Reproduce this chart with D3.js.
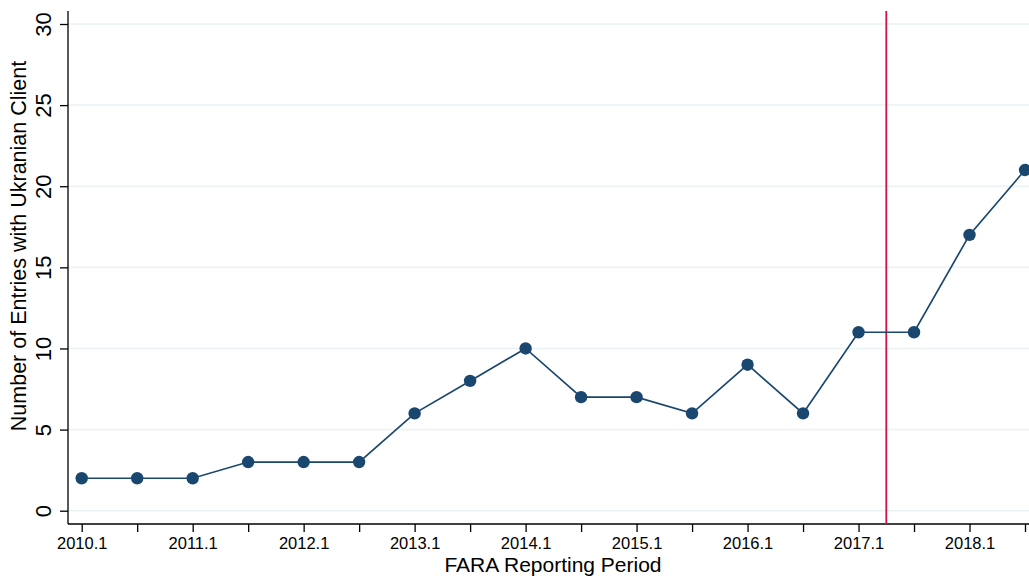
<!DOCTYPE html>
<html>
<head>
<meta charset="utf-8">
<script src="https://cdn.jsdelivr.net/npm/d3@7"></script>
<style>
  html, body { margin: 0; padding: 0; background: #fff; }
  svg { display: block; font-family: "Liberation Sans", Arial, Helvetica, sans-serif; }
</style>
</head>
<body>
<svg id="chart" width="1029" height="578"></svg>
<script>
// FARA reporting periods (half-years) and number of entries with a Ukrainian client
const periods = ["2010.1","2010.2","2011.1","2011.2","2012.1","2012.2","2013.1","2013.2",
                 "2014.1","2014.2","2015.1","2015.2","2016.1","2016.2","2017.1","2017.2",
                 "2018.1","2018.2"];
const entries = [2, 2, 2, 3, 3, 3, 6, 8, 10, 7, 7, 6, 9, 6, 11, 11, 17, 21];
const yTicks = [0, 5, 10, 15, 20, 25, 30];
// Reference line between 2017.1 and 2017.2
const markerPosition = 14.5;

const svg = d3.select("#chart");
const axisLeftX = 68, axisBottomY = 524, plotTop = 11, plotRight = 1029;

const x = d3.scaleLinear().domain([0, periods.length - 1]).range([81.7, 1025]);
const y = d3.scaleLinear().domain([0, 30]).range([510.7, 24]);

// Horizontal gridlines
svg.append("g").selectAll("line").data(yTicks).join("line")
  .attr("x1", axisLeftX).attr("x2", plotRight)
  .attr("y1", d => y(d)).attr("y2", d => y(d))
  .attr("stroke", "#eaf2f3").attr("stroke-width", 1.5);

// Left axis
const yAxis = d3.axisLeft(y).tickValues(yTicks).tickSize(8).tickPadding(9).tickSizeOuter(0);
const gy = svg.append("g").attr("transform", `translate(${axisLeftX},0)`).call(yAxis);
gy.select(".domain").remove();
gy.append("line").attr("x1", 0).attr("x2", 0).attr("y1", plotTop).attr("y2", axisBottomY)
  .attr("stroke", "#000").attr("stroke-width", 1.3);
gy.selectAll(".tick line").attr("stroke", "#000").attr("stroke-width", 1.3);
gy.selectAll(".tick text")
  .attr("font-size", 22).attr("fill", "#000")
  .attr("text-anchor", "middle")
  .attr("x", null).attr("dy", null)
  .attr("transform", "translate(-17,0) rotate(-90)");

// Bottom axis: a tick at every period, labels on the first half of each year
const xAxis = d3.axisBottom(x).tickValues(d3.range(periods.length))
  .tickFormat(i => periods[i].endsWith(".1") ? periods[i] : "")
  .tickSize(8).tickPadding(5).tickSizeOuter(0);
const gx = svg.append("g").attr("transform", `translate(0,${axisBottomY})`).call(xAxis);
gx.select(".domain").remove();
gx.append("line").attr("x1", axisLeftX).attr("x2", plotRight).attr("y1", 0).attr("y2", 0)
  .attr("stroke", "#000").attr("stroke-width", 1.3);
gx.selectAll(".tick line").attr("stroke", "#000").attr("stroke-width", 1.3);
gx.selectAll(".tick text").attr("font-size", 16.5).attr("fill", "#000");

// Vertical reference line
svg.append("line")
  .attr("x1", x(markerPosition)).attr("x2", x(markerPosition))
  .attr("y1", plotTop).attr("y2", axisBottomY)
  .attr("stroke", "#d2123f").attr("stroke-width", 1.8);

// Series line and markers
const line = d3.line().x((d, i) => x(i)).y(d => y(d));
svg.append("path").datum(entries)
  .attr("d", line).attr("fill", "none")
  .attr("stroke", "#1a476f").attr("stroke-width", 1.7);
svg.append("g").selectAll("circle").data(entries).join("circle")
  .attr("cx", (d, i) => x(i)).attr("cy", d => y(d)).attr("r", 6.2)
  .attr("fill", "#1a476f");

// Axis titles
svg.append("text")
  .attr("x", 553).attr("y", 572)
  .attr("text-anchor", "middle").attr("font-size", 21).attr("fill", "#000")
  .text("FARA Reporting Period");
svg.append("text")
  .attr("transform", "translate(26,246) rotate(-90)")
  .attr("text-anchor", "middle").attr("font-size", 21.5).attr("fill", "#000")
  .text("Number of Entries with Ukranian Client");
</script>
</body>
</html>
